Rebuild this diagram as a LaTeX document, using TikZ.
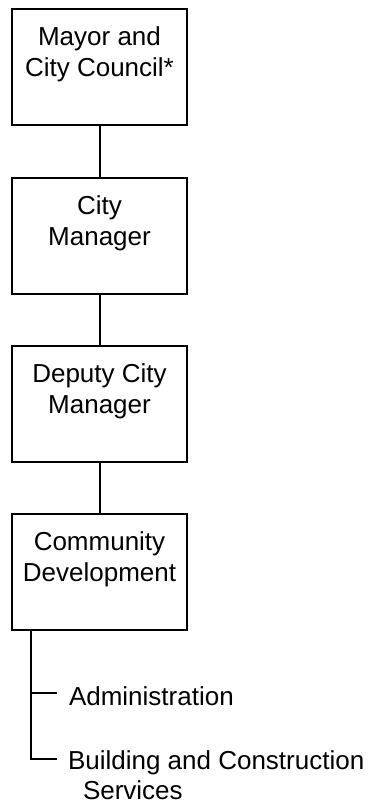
\documentclass[tikz,border=0pt]{standalone}
\usepackage{fontspec}
\setmainfont{Liberation Sans}
\begin{document}
\begin{tikzpicture}[x=1pt,y=-1pt,line width=2pt,
  orgbox/.style={draw, rectangle, minimum width=175pt, minimum height=116pt, inner sep=0pt, anchor=north},
  boxtext/.style={anchor=north, align=center, inner sep=0pt, yshift=-18pt, font=\fontsize{26pt}{31pt}\selectfont},
  subtext/.style={inner sep=0pt, align=left, font=\fontsize{26pt}{30pt}\selectfont},
  link/.style={draw, line width=2pt}]
\useasboundingbox (0,0) rectangle (373,809);
\node[orgbox] (b1) at (99.5,8) {};
\node[orgbox] (b2) at (99.5,177) {};
\node[orgbox] (b3) at (99.5,345) {};
\node[orgbox] (b4) at (99.5,513) {};
\node[boxtext] (t1) at (b1.north) {Mayor and\\City Council*};
\node[boxtext] (t2) at (b2.north) {City\\Manager};
\node[boxtext] (t3) at (b3.north) {Deputy City\\Manager};
\node[boxtext] (t4) at (b4.north) {Community\\Development};
\path[link] (b1.south) -- (b2.north);
\path[link] (b2.south) -- (b3.north);
\path[link] (b3.south) -- (b4.north);
\node[subtext, anchor=base west] (adm) at (68,705) {Administration};
\node[subtext, anchor=north west] (bld) at (67,750) {Building and Construction\\\hspace*{15pt}Services};
\coordinate (j) at ([xshift=20pt]b4.south west);
\coordinate (ja) at (32,693);
\coordinate (ak) at (57,693);
\coordinate (bk) at (57,759);
\path[link] (j) |- (bk);
\path[link] (ja) -- (ak);
\end{tikzpicture}
\end{document}
